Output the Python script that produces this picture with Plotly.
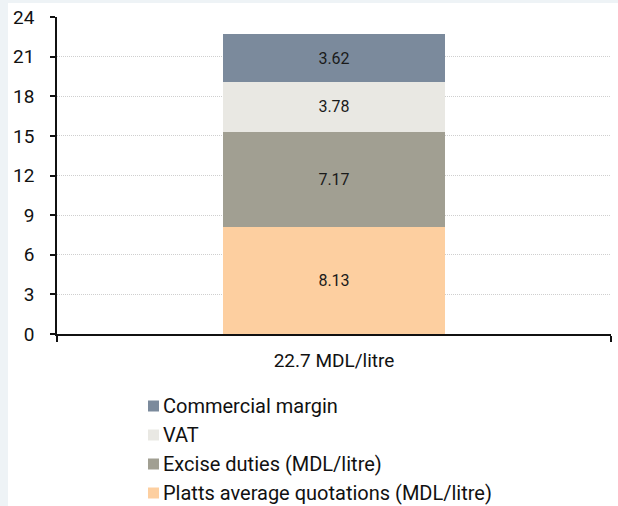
import plotly.graph_objects as go

# Fuel price structure, one stacked column
category = ["22.7 MDL/litre"]
components = [
    "Platts average quotations (MDL/litre)",
    "Excise duties (MDL/litre)",
    "VAT",
    "Commercial margin",
]
values = [8.13, 7.17, 3.78, 3.62]
colors = ["#fdcfa0", "#a19f92", "#e9e8e3", "#7b8a9c"]
y_ticks = [0, 3, 6, 9, 12, 15, 18, 21, 24]

FONT = "Roboto"
W, H = 618, 506
L, R, T, B = 57, 7, 17, 172
PW, PH = W - L - R, H - T - B


def px_x(x):
    return (x - L) / PW


def px_y(y):
    return (H - B - y) / PH


fig = go.Figure()
for name, val, col in zip(components, values, colors):
    fig.add_trace(go.Bar(
        x=category,
        y=[val],
        name=name,
        marker=dict(color=col, line=dict(width=0)),
        width=0.4,
        text=[f"{val:.2f}"],
        textposition="inside",
        insidetextanchor="middle",
        textfont=dict(family=FONT, size=16, color="#1a1a1a"),
        showlegend=False,
    ))

# page frame strips along the left and top edges
shapes = [
    dict(type="rect", xref="paper", yref="paper", layer="below",
         x0=px_x(0), x1=px_x(8), y0=px_y(H), y1=px_y(0),
         fillcolor="#eef3f6", line=dict(width=0)),
    dict(type="rect", xref="paper", yref="paper", layer="below",
         x0=px_x(0), x1=px_x(W), y0=px_y(3), y1=px_y(0),
         fillcolor="#eef3f6", line=dict(width=0)),
]
annotations = []

# legend: one row per component, top row is the top segment
row_y0, row_step = 406, 29
for i, (name, col) in enumerate(zip(components[::-1], colors[::-1])):
    cy = row_y0 + i * row_step
    shapes.append(dict(
        type="rect", xref="paper", yref="paper",
        x0=px_x(148), x1=px_x(159), y0=px_y(cy + 5.5), y1=px_y(cy - 5.5),
        fillcolor=col, line=dict(width=0),
    ))
    annotations.append(dict(
        xref="paper", yref="paper", x=px_x(161), y=px_y(cy),
        xanchor="left", yanchor="middle", showarrow=False,
        text=name, font=dict(family=FONT, size=20, color="#111111"),
    ))

fig.update_layout(
    width=W,
    height=H,
    barmode="stack",
    paper_bgcolor="white",
    plot_bgcolor="white",
    margin=dict(l=L, r=R, t=T, b=B),
    font=dict(family=FONT, size=19, color="#111111"),
    uniformtext=dict(mode="show", minsize=16),
    showlegend=False,
    shapes=shapes,
    annotations=annotations,
)

fig.update_xaxes(
    showline=True, linecolor="#111111", linewidth=1.5,
    ticks="outside", tickson="boundaries", ticklen=6, tickcolor="#111111",
    tickwidth=1.5,
    showgrid=False,
    ticklabelstandoff=8,
    tickfont=dict(family=FONT, size=19, color="#111111"),
)
fig.update_yaxes(
    range=[0, 24],
    tickvals=y_ticks,
    showline=True, linecolor="#111111", linewidth=1.5,
    ticks="outside", ticklen=5, tickcolor="#111111", tickwidth=1.5,
    showgrid=True, gridcolor="#cfcfcf", griddash="1px,1px", gridwidth=1,
    zeroline=False,
    ticklabelstandoff=12,
    tickfont=dict(family=FONT, size=19, color="#111111"),
)

fig.write_html("out.html")
